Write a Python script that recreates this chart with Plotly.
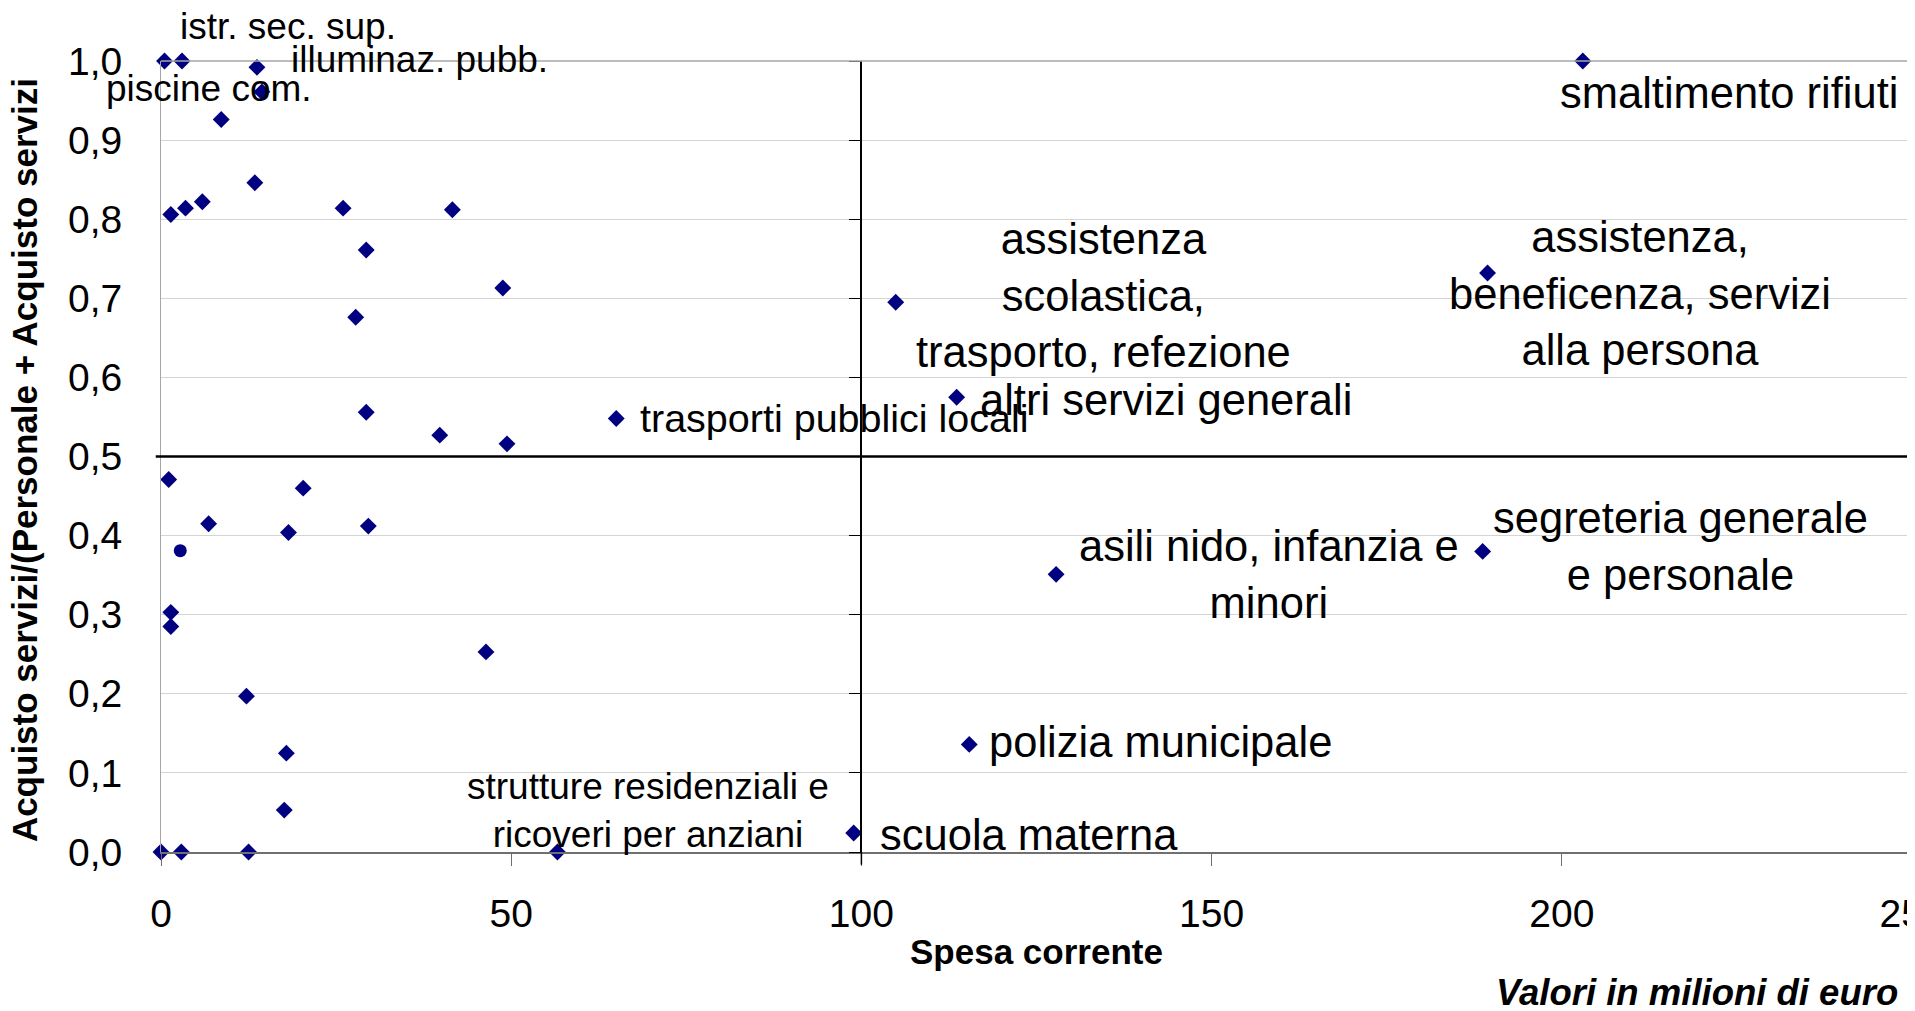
import plotly.graph_objects as go

# ---- data (Spesa corrente in milioni di euro, quota acquisto servizi) ----
spesa = [0.5, 3.0, 13.7, 14.4, 8.6, 13.4, 1.4, 3.5, 5.9, 26.0, 41.6, 29.3, 48.8,
         27.8, 29.3, 39.8, 49.4, 65.0, 1.1, 20.3, 6.8, 18.2, 29.6, 1.4, 1.4, 46.4,
         12.2, 17.9, 17.6, 0.0, 2.9, 12.5, 56.6, 98.9,
         104.9, 113.6, 127.8, 115.4, 203.0, 189.4, 188.7]
quota = [1.0, 1.0, 0.992, 0.961, 0.926, 0.846, 0.806, 0.814, 0.822, 0.814, 0.812, 0.761, 0.713,
         0.676, 0.556, 0.527, 0.516, 0.548, 0.471, 0.460, 0.415, 0.404, 0.412, 0.303, 0.285, 0.253,
         0.197, 0.125, 0.053, 0.0, 0.0, 0.0, 0.0, 0.024,
         0.695, 0.575, 0.351, 0.136, 1.0, 0.732, 0.380]
spesa_circle = [2.75]
quota_circle = [0.381]

x_ticks = [0, 50, 100, 150, 200, 250]
y_ticks = [0.0, 0.1, 0.2, 0.3, 0.4, 0.5, 0.6, 0.7, 0.8, 0.9, 1.0]
X_MAX = 250

# label text and placement (in data units)
labels = [
    ("istr. sec. sup.", 2.4, 1.043, "left", 37),
    ("illuminaz. pubb.", 18.3, 1.002, "left", 37),
    ("piscine com.", -8.1, 0.965, "left", 37),
    ("trasporti pubblici locali", 68.1, 0.549, "left", 39.5),
    ("strutture residenziali e<br>ricoveri per anziani", 69.5, 0.052, "center", 37),
    ("scuola materna", 102.3, 0.021, "left", 43.5),
    ("assistenza<br>scolastica,<br>trasporto, refezione", 134.6, 0.704, "center", 43.5),
    ("altri servizi generali", 116.6, 0.572, "left", 43.5),
    ("asili nido, infanzia e<br>minori", 158.2, 0.351, "center", 43.5),
    ("segreteria generale<br>e personale", 216.9, 0.386, "center", 43.5),
    ("polizia municipale", 118.0, 0.1396, "left", 43.5),
    ("smaltimento rifiuti", 199.5, 0.959, "left", 43.5),
    ("assistenza,<br>beneficenza, servizi<br>alla persona", 211.2, 0.706, "center", 43.5),
]

FONT = "Arial, 'Liberation Sans', sans-serif"
NAVY = "#000080"

fig = go.Figure()
fig.add_trace(go.Scatter(x=spesa, y=quota, mode="markers",
                         marker=dict(symbol="diamond", size=13, color=NAVY),
                         showlegend=False, cliponaxis=False))
fig.add_trace(go.Scatter(x=spesa_circle, y=quota_circle, mode="markers",
                         marker=dict(symbol="circle", size=13, color=NAVY),
                         showlegend=False, cliponaxis=False))

annotations = []
for text, x, y, anchor, size in labels:
    annotations.append(dict(x=x / X_MAX, y=y, xref="paper", yref="paper", text=text, showarrow=False,
                            xanchor=anchor, yanchor="middle", align="center",
                            font=dict(family=FONT, size=size, color="black")))

annotations.append(dict(x=0.5, y=-0.1255, xref="paper", yref="paper", text="<b>Spesa corrente</b>",
                        showarrow=False, xanchor="center", yanchor="middle",
                        font=dict(family=FONT, size=35, color="black")))
annotations.append(dict(x=0.9929, y=-0.1774, xref="paper", yref="paper",
                        text="<b><i>Valori in milioni di euro</i></b>",
                        showarrow=False, xanchor="right", yanchor="middle",
                        font=dict(family=FONT, size=36.5, color="black")))
annotations.append(dict(x=-0.0775, y=0.4958, xref="paper", yref="paper",
                        text="<b>Acquisto servizi/(Personale + Acquisto servizi</b>",
                        showarrow=False, xanchor="center", yanchor="middle", textangle=-90,
                        font=dict(family=FONT, size=35, color="black")))

shapes = [
    # horizontal quadrant line at 0.5
    dict(type="line", xref="paper", yref="y", x0=-0.003, x1=1, y0=0.5, y1=0.5,
         line=dict(color="black", width=2.5)),
    # top border and right border
    dict(type="line", xref="paper", yref="paper", x0=0, x1=1, y0=1, y1=1,
         line=dict(color="#a6a6a6", width=1.5)),
    dict(type="line", xref="paper", yref="paper", x0=1, x1=1, y0=0, y1=1,
         line=dict(color="#a6a6a6", width=1)),
    # vertical quadrant line extended under x axis
    dict(type="line", xref="x", yref="paper", x0=100, x1=100, y0=-0.016, y1=0,
         line=dict(color="black", width=1.5)),
]

# the page body adds an 8 px offset, so the figure is 8 px smaller on each side
fig.update_layout(
    width=1907, height=1003,
    margin=dict(l=153, r=3, t=53, b=159, autoexpand=False),
    paper_bgcolor="white", plot_bgcolor="white",
    separators=",.",
    font=dict(family=FONT, size=39, color="black"),
    annotations=annotations,
    shapes=shapes,
    xaxis=dict(range=[0, X_MAX], tickvals=x_ticks, ticks="outside", ticklen=12, tickwidth=1,
               tickcolor="#707070", showline=True, linecolor="#707070", linewidth=2,
               showgrid=False, zeroline=False, ticklabelstandoff=14, automargin=False,
               ticklabeloverflow="allow",
               tickfont=dict(family=FONT, size=39, color="black")),
    yaxis=dict(range=[0, 1], tickvals=y_ticks, tickformat=".1f", ticks="",
               showline=True, linecolor="#a6a6a6", linewidth=1,
               showgrid=True, gridcolor="#d4d4d4", gridwidth=1, zeroline=False,
               ticklabelstandoff=30, automargin=False, ticklabeloverflow="allow",
               tickfont=dict(family=FONT, size=39, color="black")),
    yaxis2=dict(range=[0, 1], tickvals=y_ticks, overlaying="y", anchor="free",
                position=0.4, side="left", showline=True, linecolor="black", linewidth=1.5,
                ticks="outside", ticklen=12, tickcolor="black", tickwidth=1,
                showticklabels=False, showgrid=False, zeroline=False, automargin=False),
)
# invisible trace to activate yaxis2
fig.add_trace(go.Scatter(x=[None], y=[None], yaxis="y2", showlegend=False, hoverinfo="skip"))

fig.write_html("out.html")
